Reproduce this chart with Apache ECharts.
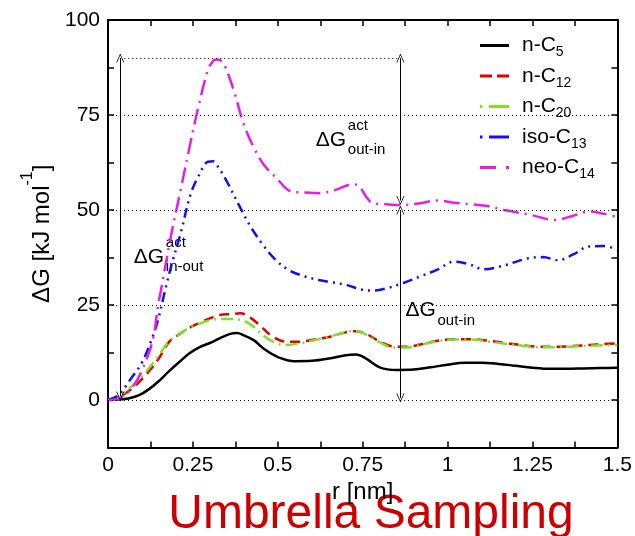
<!DOCTYPE html>
<html>
<head>
<meta charset="utf-8">
<script src="https://cdn.jsdelivr.net/npm/echarts@6/dist/echarts.min.js"></script>
<style>
  html, body { margin: 0; padding: 0; background: #fff; }
  #main { width: 635px; height: 536px; }
</style>
</head>
<body>
<div id="main"></div>
<script>
// 数据：r [nm] 与 ΔG [kJ/mol]
const rC5 = [0, 0.03, 0.06, 0.09, 0.12, 0.15, 0.18, 0.21, 0.24, 0.27, 0.30, 0.33, 0.36, 0.38, 0.40, 0.43, 0.46, 0.50, 0.55, 0.60, 0.65, 0.70, 0.73, 0.76, 0.80, 0.85, 0.90, 0.95, 1.00, 1.05, 1.10, 1.15, 1.20, 1.25, 1.30, 1.35, 1.40, 1.45, 1.50];
const gC5 = [0, 0.1, 0.4, 1.2, 2.8, 5.0, 7.6, 10.0, 12.3, 13.9, 15.0, 16.3, 17.4, 17.6, 17.0, 15.7, 13.4, 11.3, 10.2, 10.3, 10.9, 11.8, 12.0, 10.9, 8.6, 7.9, 8.0, 8.6, 9.3, 9.8, 9.8, 9.5, 9.0, 8.5, 8.2, 8.2, 8.3, 8.4, 8.5];

const rC12 = [0, 0.03, 0.06, 0.09, 0.12, 0.15, 0.18, 0.21, 0.24, 0.27, 0.30, 0.33, 0.36, 0.39, 0.42, 0.45, 0.48, 0.52, 0.56, 0.60, 0.65, 0.70, 0.73, 0.76, 0.80, 0.84, 0.88, 0.92, 0.97, 1.02, 1.07, 1.12, 1.17, 1.22, 1.27, 1.32, 1.37, 1.42, 1.46, 1.50];
const gC12 = [0, 0.7, 2.3, 4.6, 7.5, 11.0, 15.3, 17.3, 19.0, 20.3, 21.5, 22.4, 22.6, 22.8, 21.6, 19.4, 17.0, 15.4, 15.3, 15.8, 16.6, 17.8, 18.1, 17.4, 15.4, 14.1, 14.0, 14.6, 15.6, 16.0, 16.0, 15.6, 15.0, 14.4, 14.0, 14.0, 14.2, 14.5, 14.7, 14.9];

const rC20 = rC12;
const gC20 = [0, 0.9, 2.8, 5.3, 8.3, 11.8, 15.5, 17.4, 19.0, 20.1, 21.0, 21.3, 21.3, 21.1, 19.9, 17.6, 15.6, 14.5, 14.8, 15.6, 16.6, 17.9, 18.2, 17.2, 15.2, 13.8, 13.8, 14.5, 15.5, 15.9, 15.9, 15.4, 14.8, 14.3, 13.9, 13.9, 14.1, 14.3, 14.4, 14.5];

const rIso = [0, 0.03, 0.065, 0.1, 0.128, 0.147, 0.172, 0.19, 0.214, 0.244, 0.27, 0.294, 0.31, 0.324, 0.35, 0.393, 0.42, 0.453, 0.49, 0.532, 0.58, 0.62, 0.651, 0.7, 0.75, 0.78, 0.82, 0.87, 0.919, 0.97, 1.018, 1.06, 1.108, 1.17, 1.237, 1.28, 1.326, 1.37, 1.416, 1.46, 1.5];
const gIso = [0, 1.2, 5.3, 9.9, 15.8, 21.0, 30.3, 36.5, 43.9, 54.4, 59.5, 62.7, 62.8, 61.4, 57.5, 50.0, 45.6, 41.2, 37.2, 34.2, 32.5, 31.6, 31.1, 30.3, 29.0, 28.8, 29.4, 30.8, 32.5, 34.3, 36.4, 35.8, 34.4, 35.5, 37.3, 37.6, 36.8, 38.3, 40.4, 40.5, 39.6];

const rNeo = [0, 0.035, 0.073, 0.103, 0.132, 0.147, 0.156, 0.185, 0.214, 0.24, 0.264, 0.294, 0.31, 0.319, 0.33, 0.343, 0.373, 0.4, 0.433, 0.46, 0.492, 0.542, 0.58, 0.621, 0.67, 0.721, 0.741, 0.76, 0.78, 0.82, 0.87, 0.92, 0.969, 1.02, 1.068, 1.12, 1.167, 1.24, 1.316, 1.37, 1.416, 1.46, 1.5];
const gNeo = [0, 0.5, 3.5, 8.4, 15.8, 24.6, 28.9, 43.0, 55.3, 66.5, 76.3, 86.8, 89.3, 89.6, 89.4, 88.2, 80.7, 72.5, 65.8, 61.8, 58.8, 54.8, 54.6, 54.4, 55.3, 56.8, 56.1, 53.5, 51.8, 51.5, 51.3, 51.8, 52.5, 51.9, 51.5, 51.0, 50.0, 48.8, 47.4, 48.5, 49.6, 49.0, 48.1];

const seriesNames = ['n-C5', 'n-C12', 'n-C20', 'iso-C13', 'neo-C14'];
const gridLevels = [0, 25, 50, 75];

// 箭头标注（数据坐标）
const actTop = 90;
const leftArrowR = 0.036;
const rightArrowR = 0.861;
const outInLevel = 51;

const FONT = 'Liberation Sans, Arial, Helvetica, sans-serif';
const chevron = 'path://M5,0 L10,11 L9,11 L5,2.2 L1,11 L0,11 Z';

// 图例里的线型小图标
const legendIcons = [
  'path://M0,0h29v3h-29z',
  'path://M0,0h12v3h-12z M17,0h12v3h-12z',
  'path://M0,0h2.5v3h-2.5z M9,0h20v3h-20z',
  'path://M0,0h2.5v3h-2.5z M9,0h20v3h-20z',
  'path://M0,0h16v3h-16z M26,0h3v3h-3z'
];

function pairs(r, g) {
  return r.map((v, i) => [v, g[i]]);
}

let myChart = echarts.init(document.getElementById('main'));

function lineSeries(name, r, g, color, dash) {
  return {
    name: name,
    type: 'line',
    data: pairs(r, g),
    smooth: 0.35,
    symbol: 'none',
    animation: false,
    lineStyle: { color: color, width: 2.5, type: dash },
    itemStyle: { color: color }
  };
}

function arrowPair(r, g1, g2) {
  return [
    { coord: [r, g1], symbol: chevron, symbolSize: [8, 9] },
    { coord: [r, g2], symbol: chevron, symbolSize: [8, 9] }
  ];
}

let series = [
  lineSeries(seriesNames[0], rC5, gC5, '#000000', 'solid'),
  lineSeries(seriesNames[1], rC12, gC12, '#e00000', [10, 6]),
  lineSeries(seriesNames[2], rC20, gC20, '#80e028', [12, 5, 2, 5]),
  lineSeries(seriesNames[3], rIso, gIso, '#1010f0', [10, 5, 2, 5, 2, 5]),
  lineSeries(seriesNames[4], rNeo, gNeo, '#e61ee6', [16, 6, 2, 6])
];

// 网格虚线和箭头挂在第一条线上
series[0].markLine = {
  silent: true,
  animation: false,
  symbol: ['none', 'none'],
  label: { show: false },
  lineStyle: { color: '#000', width: 1, type: 'solid' },
  data: gridLevels.map(v => ({ yAxis: v, lineStyle: { type: [1, 3], color: '#000', width: 1 } }))
    .concat([
      [{ coord: [leftArrowR, actTop], symbol: 'none' }, { coord: [rightArrowR, actTop], symbol: 'none', lineStyle: { type: [1, 3] } }],
      arrowPair(leftArrowR, 1, actTop),
      arrowPair(rightArrowR, outInLevel + 1.5, actTop),
      arrowPair(rightArrowR, 0.5, outInLevel - 1)
    ])
};

function axisCommon(extra) {
  return Object.assign({
    type: 'value',
    axisLine: { onZero: false, lineStyle: { color: '#000', width: 2 } },
    axisTick: { inside: true, length: 6, lineStyle: { color: '#000', width: 1.5 } },
    splitLine: { show: false }
  }, extra);
}

let option = {
  animation: false,
  grid: { left: 108, right: 17, top: 20, bottom: 88.5 },
  legend: {
    orient: 'vertical',
    left: 480,
    top: 35,
    padding: 0,
    itemWidth: 29,
    itemHeight: 3,
    itemGap: 6,
    data: seriesNames.map((n, i) => ({ name: n, icon: legendIcons[i] })),
    formatter: function (name) {
      let m = name.match(/^(.*C)(\d+)$/);
      return '{a|' + m[1] + '}{b|' + m[2] + '}';
    },
    textStyle: {
      color: '#000',
      rich: {
        a: { fontSize: 21, lineHeight: 28, fontFamily: FONT, color: '#000', padding: [0, 0, 0, 8] },
        b: { fontSize: 14, lineHeight: 14, verticalAlign: 'bottom', fontFamily: FONT, color: '#000' }
      }
    }
  },
  xAxis: [
    axisCommon({
      min: 0, max: 1.5, interval: 0.125,
      name: 'r [nm]',
      nameLocation: 'middle',
      nameGap: 24,
      nameTextStyle: { fontSize: 24, color: '#000', fontFamily: FONT },
      axisLabel: {
        margin: 7, fontSize: 21, color: '#000', fontFamily: FONT,
        formatter: v => (Math.abs(v * 4 - Math.round(v * 4)) < 1e-6 ? String(+v.toFixed(2)) : '')
      }
    }),
    axisCommon({
      position: 'top', min: 0, max: 1.5, interval: 0.125,
      axisLabel: { show: false }
    })
  ],
  yAxis: [
    axisCommon({
      min: -12.5, max: 100, interval: 12.5,
      name: '{a|ΔG [kJ mol}{s|-1}{a|]}',
      nameLocation: 'middle',
      nameGap: 33.5,
      nameTextStyle: {
        rich: {
          a: { fontSize: 24, lineHeight: 44, color: '#000', fontFamily: FONT },
          s: { fontSize: 16, lineHeight: 16, verticalAlign: 'top', color: '#000', fontFamily: FONT }
        }
      },
      axisLabel: {
        margin: 8, fontSize: 21, color: '#000', fontFamily: FONT,
        formatter: v => (v >= 0 && v % 25 === 0 ? String(v) : '')
      }
    }),
    axisCommon({
      position: 'right', min: -12.5, max: 100, interval: 12.5,
      axisLabel: { show: false }
    })
  ],
  series: series
};

myChart.setOption(option);

// ΔG 标注，位置用数据坐标换算
const notes = [
  { at: [0.076, 37.6], sup: 'act', sub: 'in-out' },
  { at: [0.612, 68.4], sup: 'act', sub: 'out-in' },
  { at: [0.876, 23.5], sup: '', sub: 'out-in' }
];

let graphics = [];
notes.forEach(n => {
  let p = myChart.convertToPixel({ gridIndex: 0 }, n.at);
  graphics.push({ type: 'text', x: p[0], y: p[1], silent: true,
    style: { text: 'ΔG', font: '21px ' + FONT, fill: '#000', textAlign: 'left', textVerticalAlign: 'middle' } });
  if (n.sup) {
    graphics.push({ type: 'text', x: p[0] + 32, y: p[1] - 14, silent: true,
      style: { text: n.sup, font: '15px ' + FONT, fill: '#000', textAlign: 'left', textVerticalAlign: 'middle' } });
  }
  graphics.push({ type: 'text', x: p[0] + 32, y: p[1] + 10, silent: true,
    style: { text: n.sub, font: '15px ' + FONT, fill: '#000', textAlign: 'left', textVerticalAlign: 'middle' } });
});

graphics.push({
  type: 'text', x: 371, y: 515, silent: true,
  style: { text: 'Umbrella Sampling', font: '48px ' + FONT, fill: '#cc0000', textAlign: 'center', textVerticalAlign: 'middle' }
});

myChart.setOption({ graphic: graphics });
</script>
</body>
</html>
